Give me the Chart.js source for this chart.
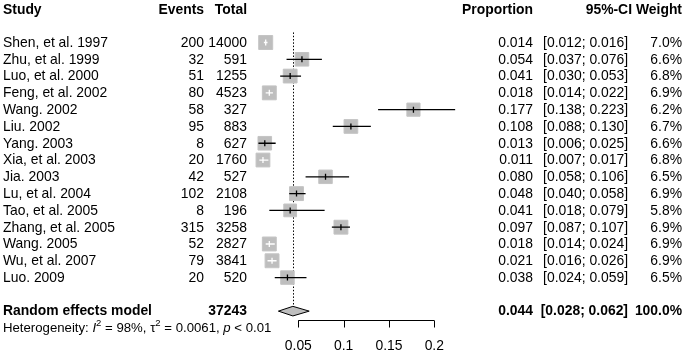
<!DOCTYPE html>
<html>
<head>
<meta charset="utf-8">
<script src="https://cdn.jsdelivr.net/npm/chart.js@4.4.1/dist/chart.umd.min.js"></script>
<style>
  html, body { margin: 0; padding: 0; background: #fff; }
  canvas { display: block; }
</style>
</head>
<body>
<canvas id="forest" width="686" height="353"></canvas>
<script>
// study data
const studies = ['Shen, et al. 1997', 'Zhu, et al. 1999', 'Luo, et al. 2000', 'Feng, et al. 2002', 'Wang. 2002',
  'Liu. 2002', 'Yang. 2003', 'Xia, et al. 2003', 'Jia. 2003', 'Lu, et al. 2004', 'Tao, et al. 2005',
  'Zhang, et al. 2005', 'Wang. 2005', 'Wu, et al. 2007', 'Luo. 2009'];
const events = [200, 32, 51, 80, 58, 95, 8, 20, 42, 102, 8, 315, 52, 79, 20];
const totals = [14000, 591, 1255, 4523, 327, 883, 627, 1760, 527, 2108, 196, 3258, 2827, 3841, 520];
const proportions = [0.014, 0.054, 0.041, 0.018, 0.177, 0.108, 0.013, 0.011, 0.080, 0.048, 0.041, 0.097, 0.018, 0.021, 0.038];
const ciLower = [0.012, 0.037, 0.030, 0.014, 0.138, 0.088, 0.006, 0.007, 0.058, 0.040, 0.018, 0.087, 0.014, 0.016, 0.024];
const ciUpper = [0.016, 0.076, 0.053, 0.022, 0.223, 0.130, 0.025, 0.017, 0.106, 0.058, 0.079, 0.107, 0.024, 0.026, 0.059];
const weights = [7.0, 6.6, 6.8, 6.9, 6.2, 6.7, 6.6, 6.8, 6.5, 6.9, 5.8, 6.9, 6.9, 6.9, 6.5];

// random effects model
const pooledEst = 0.044;
const pooledLower = 0.028;
const pooledUpper = 0.062;
const pooledTotal = 37243;
const pooledWeight = 100.0;
const hetI2 = 98;
const hetTau2 = 0.0061;
const hetP = '< 0.01';

const xTicks = [0.05, 0.1, 0.15, 0.2];

const FONT = "'Liberation Sans', Arial, sans-serif";
const FS = 13.9;
const pooledRow = studies.length + 1;   // blank line, then the model row
const boxSide = w => 14 * Math.sqrt(w / 7.0);

const forestPlugin = {
  id: 'forest',
  beforeDatasetsDraw(chart) {
    const { ctx, scales: { x, y } } = chart;
    // dotted line at the pooled estimate
    const px = Math.round(x.getPixelForValue(pooledEst)) + 0.5;
    ctx.save();
    ctx.strokeStyle = '#000';
    ctx.lineWidth = 1;
    ctx.setLineDash([1.5, 1.8]);
    ctx.beginPath();
    ctx.moveTo(px, y.getPixelForValue(-0.6));
    ctx.lineTo(px, y.getPixelForValue(pooledRow - 0.35));
    ctx.stroke();
    ctx.restore();
  },
  afterDatasetsDraw(chart) {
    const { ctx, scales: { x, y } } = chart;
    ctx.save();

    // confidence intervals + estimate marks
    proportions.forEach((p, i) => {
      const cy = y.getPixelForValue(i);
      const cx = x.getPixelForValue(p);
      const half = boxSide(weights[i]) / 2;
      const x1 = x.getPixelForValue(ciLower[i]);
      const x2 = x.getPixelForValue(ciUpper[i]);
      const inside = x1 >= cx - half && x2 <= cx + half;
      ctx.strokeStyle = inside ? '#fff' : '#000';
      ctx.lineWidth = 1.3;
      ctx.beginPath();
      ctx.moveTo(x1, cy);
      ctx.lineTo(x2, cy);
      ctx.moveTo(cx, cy - 3);
      ctx.lineTo(cx, cy + 3);
      ctx.stroke();
    });

    // pooled diamond
    const dy = y.getPixelForValue(pooledRow);
    ctx.fillStyle = '#bebebe';
    ctx.strokeStyle = '#000';
    ctx.lineWidth = 1;
    ctx.beginPath();
    ctx.moveTo(x.getPixelForValue(pooledLower), dy);
    ctx.lineTo(x.getPixelForValue(pooledEst), dy - 4.8);
    ctx.lineTo(x.getPixelForValue(pooledUpper), dy);
    ctx.lineTo(x.getPixelForValue(pooledEst), dy + 4.8);
    ctx.closePath();
    ctx.fill();
    ctx.stroke();

    // x axis
    const ay = Math.round(y.getPixelForValue(pooledRow + 0.5)) + 0.5;
    ctx.beginPath();
    ctx.moveTo(x.getPixelForValue(xTicks[0]), ay);
    ctx.lineTo(x.getPixelForValue(xTicks[xTicks.length - 1]), ay);
    xTicks.forEach(t => {
      const tx = Math.round(x.getPixelForValue(t)) + 0.5;
      ctx.moveTo(tx, ay);
      ctx.lineTo(tx, ay + 7);
    });
    ctx.stroke();
    ctx.fillStyle = '#000';
    ctx.font = `${FS}px ${FONT}`;
    ctx.textAlign = 'center';
    ctx.textBaseline = 'middle';
    xTicks.forEach(t => ctx.fillText(String(t), x.getPixelForValue(t), ay + 26));

    // text columns
    const text = (s, tx, row, align, bold) => {
      ctx.font = `${bold ? 'bold ' : ''}${FS}px ${FONT}`;
      ctx.textAlign = align;
      ctx.fillText(s, tx, y.getPixelForValue(row) + 0.5);
    };
    const hdr = -1.98;
    text('Study', 3, hdr, 'left', true);
    text('Events', 204, hdr, 'right', true);
    text('Total', 247, hdr, 'right', true);
    text('Proportion', 533, hdr, 'right', true);
    text('95%-CI', 632, hdr, 'right', true);
    text('Weight', 682, hdr, 'right', true);

    studies.forEach((s, i) => {
      text(s, 3, i, 'left', false);
      text(String(events[i]), 204, i, 'right', false);
      text(String(totals[i]), 247, i, 'right', false);
      text(proportions[i].toFixed(3), 533, i, 'right', false);
      text(`[${ciLower[i].toFixed(3)}; ${ciUpper[i].toFixed(3)}]`, 628, i, 'right', false);
      text(weights[i].toFixed(1) + '%', 682, i, 'right', false);
    });

    text('Random effects model', 3, pooledRow, 'left', true);
    text(String(pooledTotal), 247, pooledRow, 'right', true);
    text(pooledEst.toFixed(3), 533, pooledRow, 'right', true);
    text(`[${pooledLower.toFixed(3)}; ${pooledUpper.toFixed(3)}]`, 628, pooledRow, 'right', true);
    text(pooledWeight.toFixed(1) + '%', 682, pooledRow, 'right', true);

    // heterogeneity line with italic / superscript pieces
    const hs = 13.2;
    const parts = [
      ['Heterogeneity: ', ''], ['I', 'italic '], ['2', 'sup'], [` = ${hetI2}%, `, ''],
      ['\u03c4', ''], ['2', 'sup'], [` = ${hetTau2}, `, ''], ['p', 'italic '], [` ${hetP}`, '']
    ];
    let hx = 3;
    const hy = y.getPixelForValue(pooledRow + 1) + 0.5;
    ctx.textAlign = 'left';
    parts.forEach(([s, st]) => {
      if (st === 'sup') {
        ctx.font = `${hs * 0.72}px ${FONT}`;
        ctx.fillText(s, hx, hy - 5);
      } else {
        ctx.font = `${st}${hs}px ${FONT}`;
        ctx.fillText(s, hx, hy);
      }
      hx += ctx.measureText(s).width;
    });

    ctx.restore();
  }
};

const rowH = 16.79;
const firstRowY = 42.5;

new Chart(document.getElementById('forest'), {
  type: 'scatter',
  data: {
    datasets: [{
      data: proportions.map((p, i) => ({ x: p, y: i })),
      pointStyle: 'rect',
      pointRadius: weights.map(w => boxSide(w) / Math.SQRT2),
      backgroundColor: '#bebebe',
      borderColor: '#c4c4c4',
      borderWidth: 1,
      clip: false
    }]
  },
  options: {
    responsive: false,
    devicePixelRatio: 1,
    animation: false,
    events: [],
    layout: { autoPadding: false, padding: { left: 253, right: 251.7, top: 0, bottom: 0 } },
    plugins: { legend: { display: false }, tooltip: { enabled: false } },
    scales: {
      x: { type: 'linear', min: 0, max: 0.2, display: false },
      y: { type: 'linear', reverse: true, min: -firstRowY / rowH, max: (353 - firstRowY) / rowH, display: false }
    }
  },
  plugins: [forestPlugin]
});
</script>
</body>
</html>
